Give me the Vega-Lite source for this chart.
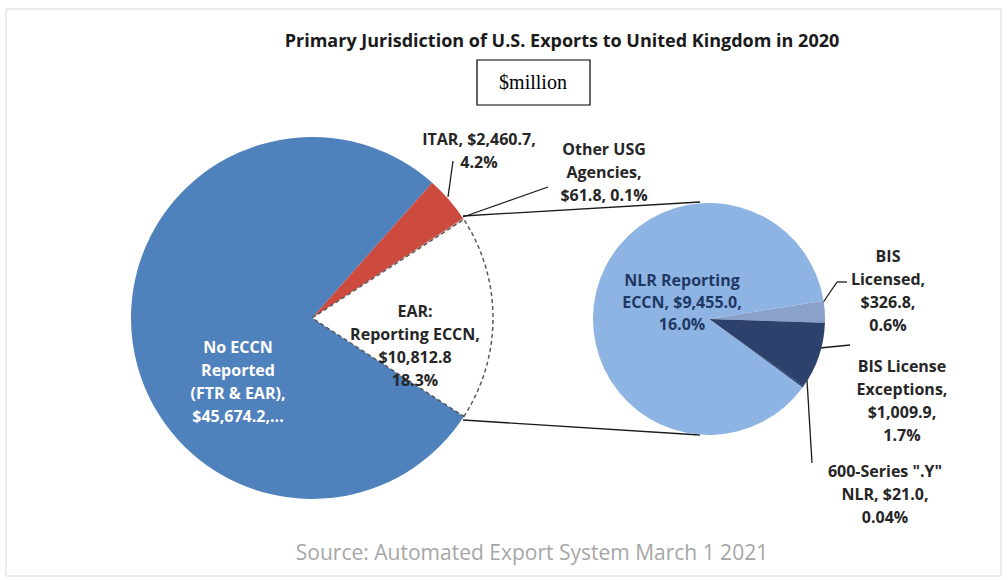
{
  "$schema": "https://vega.github.io/schema/vega-lite/v6.json",
  "width": 1008,
  "height": 580,
  "autosize": {"type": "fit", "contains": "padding"},
  "padding": 0,
  "background": "white",
  "config": {"view": {"stroke": null}},
  "resolve": {"scale": {"theta": "independent", "color": "independent"}},
  "datasets": {
    "main": [
      {"cat": "EAR: Reporting ECCN", "value": 10812.8, "ord": 1},
      {"cat": "No ECCN Reported (FTR & EAR)", "value": 45674.2, "ord": 2},
      {"cat": "ITAR", "value": 2460.7, "ord": 3},
      {"cat": "Other USG Agencies", "value": 61.8, "ord": 4}
    ]
  },
  "layer": [
    {
      "data": {"values": [{"x1": 6, "y1": 9, "x2": 1001, "y2": 576}]},
      "mark": {"type": "rect", "filled": false, "stroke": "#d9d9d9", "strokeWidth": 1},
      "encoding": {
        "x": {"field": "x1", "type": "quantitative", "scale": {"domain": [0, 1008], "nice": false, "zero": false}, "axis": null},
        "x2": {"field": "x2"},
        "y": {"field": "y1", "type": "quantitative", "scale": {"domain": [0, 580], "nice": false, "zero": false, "reverse": true}, "axis": null},
        "y2": {"field": "y2"}
      }
    },
    {
      "data": {"values": [{"x1": 477, "y1": 60, "x2": 590, "y2": 105}]},
      "mark": {"type": "rect", "fill": "white", "stroke": "#000000", "strokeWidth": 1.2},
      "encoding": {
        "x": {"field": "x1", "type": "quantitative", "scale": {"domain": [0, 1008], "nice": false, "zero": false}, "axis": null},
        "x2": {"field": "x2"},
        "y": {"field": "y1", "type": "quantitative", "scale": {"domain": [0, 580], "nice": false, "zero": false, "reverse": true}, "axis": null},
        "y2": {"field": "y2"}
      }
    },
    {
      "data": {"values": [
        {"x1": 463, "y1": 216, "x2": 700, "y2": 202},
        {"x1": 463, "y1": 420, "x2": 700, "y2": 435},
        {"x1": 448, "y1": 197, "x2": 453, "y2": 161},
        {"x1": 463, "y1": 217, "x2": 548, "y2": 187},
        {"x1": 820, "y1": 307, "x2": 837, "y2": 282},
        {"x1": 837, "y1": 282, "x2": 847, "y2": 282},
        {"x1": 820, "y1": 348, "x2": 850, "y2": 345},
        {"x1": 807, "y1": 380, "x2": 812, "y2": 463}
      ]},
      "mark": {"type": "rule", "stroke": "#1a1a1a", "strokeWidth": 1.3},
      "encoding": {
        "x": {"field": "x1", "type": "quantitative", "scale": {"domain": [0, 1008], "nice": false, "zero": false}, "axis": null},
        "x2": {"field": "x2"},
        "y": {"field": "y1", "type": "quantitative", "scale": {"domain": [0, 580], "nice": false, "zero": false, "reverse": true}, "axis": null},
        "y2": {"field": "y2"}
      }
    },
    {
      "data": {"name": "main"},
      "mark": {"type": "arc", "outerRadius": 181},
      "encoding": {
        "x": {"datum": 312, "type": "quantitative", "scale": {"domain": [0, 1008], "nice": false, "zero": false}, "axis": null},
        "y": {"datum": 318, "type": "quantitative", "scale": {"domain": [0, 580], "nice": false, "zero": false, "reverse": true}, "axis": null},
        "theta": {"field": "value", "type": "quantitative", "stack": true, "scale": {"range": [0.9948, 7.2780]}},
        "order": {"field": "ord", "type": "quantitative"},
        "color": {
          "field": "cat", "type": "nominal", "legend": null,
          "scale": {
            "domain": ["EAR: Reporting ECCN", "No ECCN Reported (FTR & EAR)", "ITAR", "Other USG Agencies"],
            "range": ["#ffffff", "#4f81bd", "#cd4a3f", "#c9a9a0"]
          }
        }
      }
    },
    {
      "data": {"name": "main"},
      "mark": {"type": "arc", "outerRadius": 181, "fill": "transparent", "strokeDash": [4, 3], "strokeWidth": 1.5},
      "encoding": {
        "x": {"datum": 312, "type": "quantitative", "scale": {"domain": [0, 1008], "nice": false, "zero": false}, "axis": null},
        "y": {"datum": 318, "type": "quantitative", "scale": {"domain": [0, 580], "nice": false, "zero": false, "reverse": true}, "axis": null},
        "theta": {"field": "value", "type": "quantitative", "stack": true, "scale": {"range": [0.9948, 7.2780]}},
        "order": {"field": "ord", "type": "quantitative"},
        "stroke": {"condition": {"test": "datum.cat === 'EAR: Reporting ECCN'", "value": "#595959"}, "value": "transparent"}
      }
    },
    {
      "data": {"values": [
        {"cat": "BIS Licensed", "value": 326.8, "ord": 1},
        {"cat": "BIS License Exceptions", "value": 1009.9, "ord": 2},
        {"cat": "600-Series .Y NLR", "value": 21.0, "ord": 3},
        {"cat": "NLR Reporting ECCN", "value": 9455.0, "ord": 4}
      ]},
      "mark": {"type": "arc", "outerRadius": 116},
      "encoding": {
        "x": {"datum": 709, "type": "quantitative", "scale": {"domain": [0, 1008], "nice": false, "zero": false}, "axis": null},
        "y": {"datum": 319, "type": "quantitative", "scale": {"domain": [0, 580], "nice": false, "zero": false, "reverse": true}, "axis": null},
        "theta": {"field": "value", "type": "quantitative", "stack": true, "scale": {"range": [1.4137, 7.6969]}},
        "order": {"field": "ord", "type": "quantitative"},
        "color": {
          "field": "cat", "type": "nominal", "legend": null,
          "scale": {
            "domain": ["BIS Licensed", "BIS License Exceptions", "600-Series .Y NLR", "NLR Reporting ECCN"],
            "range": ["#8aa1c9", "#2c426c", "#1f3864", "#8db4e2"]
          }
        }
      }
    },
    {
      "data": {"values": [
        {"x": 562, "y": 42, "t": "Primary Jurisdiction of U.S. Exports to United Kingdom in 2020"}
      ]},
      "mark": {"type": "text", "font": "Open Sans", "fontWeight": "bold", "fontSize": 18, "color": "#1a1a1a", "align": "center", "baseline": "middle"},
      "encoding": {
        "x": {"field": "x", "type": "quantitative", "scale": {"domain": [0, 1008], "nice": false, "zero": false}, "axis": null},
        "y": {"field": "y", "type": "quantitative", "scale": {"domain": [0, 580], "nice": false, "zero": false, "reverse": true}, "axis": null},
        "text": {"field": "t"}
      }
    },
    {
      "data": {"values": [
        {"x": 533, "y": 83, "t": "$million"}
      ]},
      "mark": {"type": "text", "font": "Liberation Serif", "fontSize": 20, "color": "#000000", "align": "center", "baseline": "middle"},
      "encoding": {
        "x": {"field": "x", "type": "quantitative", "scale": {"domain": [0, 1008], "nice": false, "zero": false}, "axis": null},
        "y": {"field": "y", "type": "quantitative", "scale": {"domain": [0, 580], "nice": false, "zero": false, "reverse": true}, "axis": null},
        "text": {"field": "t"}
      }
    },
    {
      "data": {"values": [
        {"x": 532, "y": 554, "t": "Source: Automated Export System March 1 2021"}
      ]},
      "mark": {"type": "text", "font": "Open Sans", "fontSize": 21, "color": "#a6a6a6", "align": "center", "baseline": "middle"},
      "encoding": {
        "x": {"field": "x", "type": "quantitative", "scale": {"domain": [0, 1008], "nice": false, "zero": false}, "axis": null},
        "y": {"field": "y", "type": "quantitative", "scale": {"domain": [0, 580], "nice": false, "zero": false, "reverse": true}, "axis": null},
        "text": {"field": "t"}
      }
    },
    {
      "data": {"values": [
        {"x": 238, "y": 348, "t": ["No ECCN", "Reported", "(FTR & EAR),", "$45,674.2,..."]}
      ]},
      "mark": {"type": "text", "font": "Open Sans", "fontWeight": "bold", "fontSize": 16, "lineHeight": 23, "color": "#ffffff", "align": "center", "baseline": "middle"},
      "encoding": {
        "x": {"field": "x", "type": "quantitative", "scale": {"domain": [0, 1008], "nice": false, "zero": false}, "axis": null},
        "y": {"field": "y", "type": "quantitative", "scale": {"domain": [0, 580], "nice": false, "zero": false, "reverse": true}, "axis": null},
        "text": {"field": "t"}
      }
    },
    {
      "data": {"values": [
        {"x": 682, "y": 281, "t": ["NLR Reporting", "ECCN, $9,455.0,", "16.0%"]}
      ]},
      "mark": {"type": "text", "font": "Open Sans", "fontWeight": "bold", "fontSize": 16, "lineHeight": 22, "color": "#1f3864", "align": "center", "baseline": "middle"},
      "encoding": {
        "x": {"field": "x", "type": "quantitative", "scale": {"domain": [0, 1008], "nice": false, "zero": false}, "axis": null},
        "y": {"field": "y", "type": "quantitative", "scale": {"domain": [0, 580], "nice": false, "zero": false, "reverse": true}, "axis": null},
        "text": {"field": "t"}
      }
    },
    {
      "data": {"values": [
        {"x": 415, "y": 312, "t": ["EAR:", "Reporting ECCN,", "$10,812.8", "18.3%"]},
        {"x": 479, "y": 140, "t": ["ITAR, $2,460.7,", "4.2%"]},
        {"x": 604, "y": 150, "t": ["Other USG", "Agencies,", "$61.8, 0.1%"]},
        {"x": 888, "y": 257, "t": ["BIS", "Licensed,", "$326.8,", "0.6%"]},
        {"x": 902, "y": 367, "t": ["BIS License", "Exceptions,", "$1,009.9,", "1.7%"]},
        {"x": 885, "y": 472, "t": ["600-Series \".Y\"", "NLR, $21.0,", "0.04%"]}
      ]},
      "mark": {"type": "text", "font": "Open Sans", "fontWeight": "bold", "fontSize": 16, "lineHeight": 23, "color": "#262626", "align": "center", "baseline": "middle"},
      "encoding": {
        "x": {"field": "x", "type": "quantitative", "scale": {"domain": [0, 1008], "nice": false, "zero": false}, "axis": null},
        "y": {"field": "y", "type": "quantitative", "scale": {"domain": [0, 580], "nice": false, "zero": false, "reverse": true}, "axis": null},
        "text": {"field": "t"}
      }
    }
  ]
}
